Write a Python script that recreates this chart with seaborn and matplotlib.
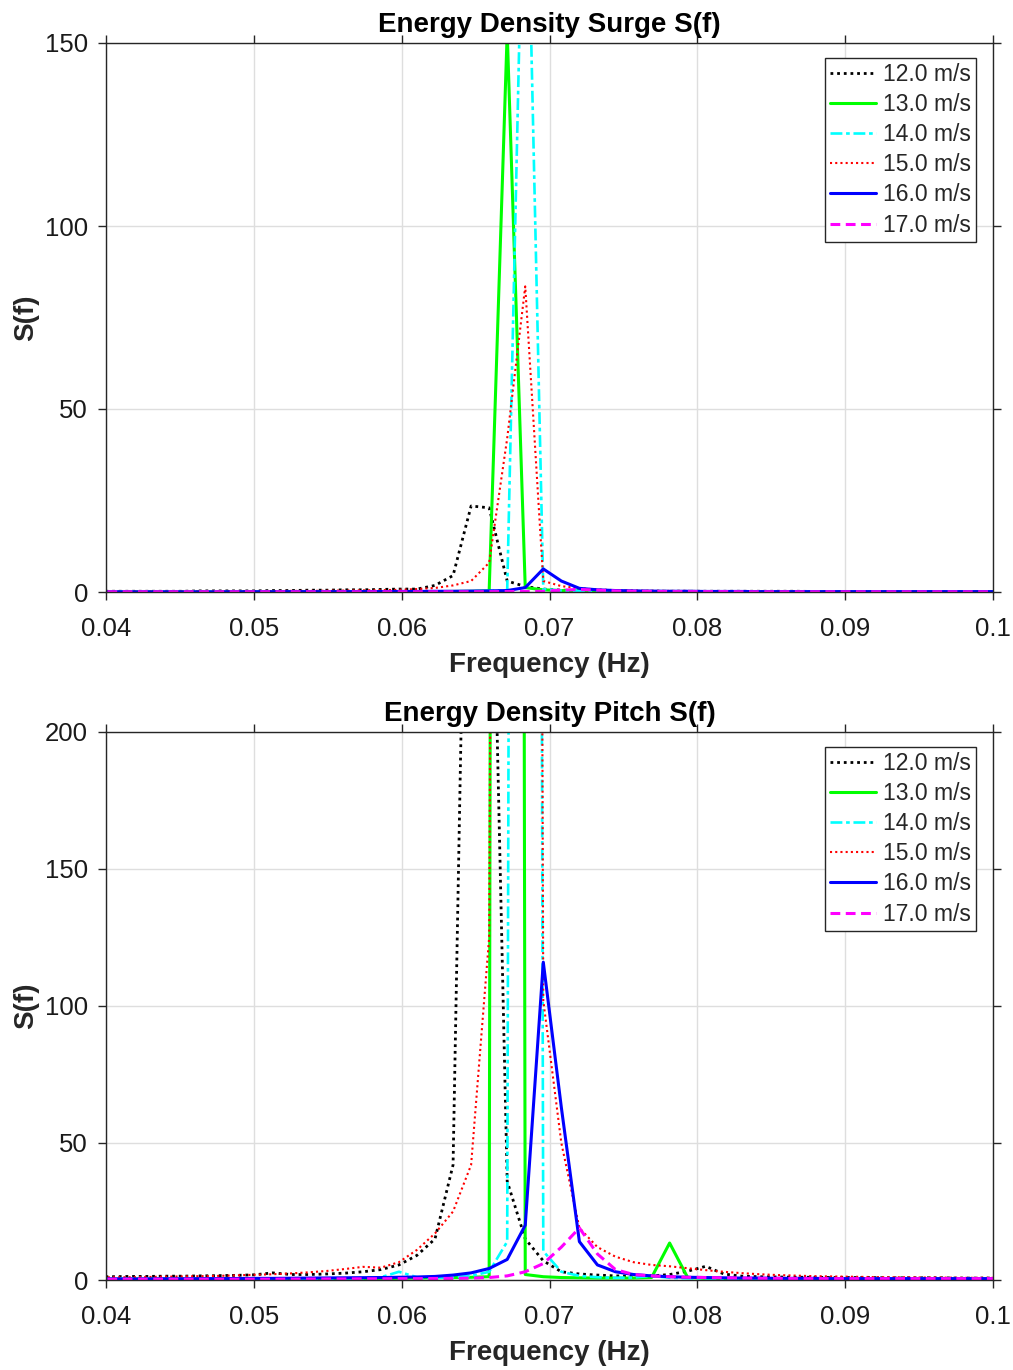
import numpy as np
import pandas as pd
import matplotlib
matplotlib.use("Agg")
import matplotlib.pyplot as plt
import seaborn as sns

# FFT bin frequencies (df = 1/819.2 s), bins 32..82
freq = np.arange(32, 83) / 819.2

speeds = ["12.0 m/s", "13.0 m/s", "14.0 m/s", "15.0 m/s", "16.0 m/s", "17.0 m/s"]

# Surge energy density per wind speed
surge_12 = [0.2, 0.2, 0.2, 0.2, 0.2, 0.2, 0.3, 0.3, 0.3, 0.3,
            0.4, 0.4, 0.5, 0.5, 0.6, 0.6, 0.7, 0.8, 0.8, 1.8,
            4.5, 23.5, 23.0, 3.0, 1.5, 0.8, 0.5, 0.4, 0.3, 0.3,
            0.2, 0.2, 0.2, 0.2, 0.2, 0.2, 0.2, 0.2, 0.2, 0.2,
            0.15, 0.15, 0.15, 0.15, 0.15, 0.15, 0.15, 0.15, 0.15, 0.15, 0.15]
surge_13 = [0.05, 0.05, 0.05, 0.05, 0.05, 0.05, 0.05, 0.05, 0.05, 0.05,
            0.05, 0.05, 0.05, 0.05, 0.05, 0.05, 0.08, 0.08, 0.1, 0.1,
            0.15, 0.2, 0.3, 153.0, 1.2, 0.6, 0.4, 0.3, 0.2, 0.2,
            0.1, 0.1, 0.1, 0.1, 0.1, 0.1, 0.1, 0.1, 0.1, 0.1,
            0.1, 0.1, 0.1, 0.1, 0.1, 0.1, 0.1, 0.1, 0.1, 0.1, 0.1]
surge_14 = [0.05, 0.05, 0.05, 0.05, 0.05, 0.05, 0.05, 0.05, 0.05, 0.05,
            0.05, 0.05, 0.05, 0.05, 0.05, 0.08, 0.08, 0.1, 0.1, 0.1,
            0.15, 0.2, 0.3, 0.5, 225.0, 0.8, 0.4, 0.3, 0.2, 0.2,
            0.1, 0.1, 0.1, 0.1, 0.1, 0.1, 0.1, 0.1, 0.1, 0.1,
            0.1, 0.1, 0.1, 0.1, 0.1, 0.1, 0.1, 0.1, 0.1, 0.1, 0.1]
surge_15 = [0.1, 0.1, 0.1, 0.15, 0.15, 0.15, 0.2, 0.2, 0.2, 0.25,
            0.25, 0.3, 0.3, 0.35, 0.4, 0.45, 0.5, 0.6, 0.8, 1.1,
            1.8, 3.0, 8.0, 42.0, 83.5, 3.0, 1.6, 1.0, 0.7, 0.5,
            0.4, 0.35, 0.3, 0.3, 0.25, 0.25, 0.2, 0.2, 0.2, 0.2,
            0.15, 0.15, 0.15, 0.15, 0.15, 0.15, 0.15, 0.15, 0.15, 0.15, 0.15]
surge_16 = [0.05, 0.05, 0.05, 0.05, 0.05, 0.05, 0.05, 0.05, 0.08, 0.08,
            0.08, 0.1, 0.1, 0.1, 0.1, 0.12, 0.12, 0.15, 0.15, 0.2,
            0.2, 0.25, 0.3, 0.4, 1.2, 6.3, 3.0, 1.0, 0.6, 0.4,
            0.3, 0.25, 0.2, 0.2, 0.15, 0.15, 0.15, 0.1, 0.1, 0.1,
            0.1, 0.1, 0.1, 0.1, 0.1, 0.1, 0.1, 0.1, 0.1, 0.1, 0.1]
surge_17 = [0.05, 0.05, 0.05, 0.05, 0.05, 0.05, 0.05, 0.05, 0.05, 0.05,
            0.05, 0.05, 0.05, 0.05, 0.05, 0.05, 0.05, 0.05, 0.05, 0.05,
            0.05, 0.05, 0.08, 0.1, 0.15, 0.2, 0.5, 0.7, 0.5, 0.3,
            0.2, 0.15, 0.1, 0.1, 0.1, 0.1, 0.05, 0.05, 0.05, 0.05,
            0.05, 0.05, 0.05, 0.05, 0.05, 0.05, 0.05, 0.05, 0.05, 0.05, 0.05]

# Pitch energy density per wind speed
pitch_12 = [1.2, 1.2, 1.3, 1.3, 1.4, 1.4, 1.5, 1.6, 1.7, 1.9,
            2.6, 2.0, 2.0, 2.2, 2.5, 3.0, 3.8, 5.5, 9.0, 15.0,
            42.0, 400.0, 330.0, 36.0, 15.0, 7.0, 3.0, 2.2, 1.8, 1.5,
            1.4, 1.5, 2.0, 3.2, 5.0, 2.2, 1.4, 1.2, 1.1, 1.0,
            1.0, 0.9, 0.9, 0.9, 0.8, 0.8, 0.8, 0.8, 0.7, 0.7, 0.7]
pitch_13 = [0.4, 0.4, 0.4, 0.4, 0.4, 0.4, 0.4, 0.4, 0.4, 0.4,
            0.4, 0.4, 0.4, 0.4, 0.5, 0.5, 0.5, 0.6, 0.7, 0.8,
            0.9, 1.0, 1.2, 3600.0, 2.0, 1.2, 0.9, 0.8, 0.7, 0.7,
            0.7, 0.9, 13.5, 0.9, 0.6, 0.5, 0.5, 0.5, 0.5, 0.4,
            0.4, 0.4, 0.4, 0.4, 0.4, 0.4, 0.4, 0.4, 0.4, 0.4, 0.4]
pitch_14 = [0.5, 0.5, 0.5, 0.5, 0.5, 0.5, 0.5, 0.5, 0.5, 0.5,
            0.5, 0.5, 0.5, 0.5, 0.6, 0.7, 1.0, 3.0, 1.0, 0.8,
            1.0, 1.5, 3.0, 14.0, 2500.0, 10.5, 3.0, 1.5, 1.0, 0.8,
            0.9, 1.5, 0.8, 0.6, 0.6, 0.5, 0.5, 0.5, 0.5, 0.5,
            0.5, 0.5, 0.5, 0.5, 0.5, 0.5, 0.5, 0.5, 0.5, 0.5, 0.5]
pitch_15 = [0.9, 1.0, 1.0, 1.1, 1.2, 1.3, 1.4, 1.5, 1.7, 1.9,
            2.1, 2.4, 2.8, 3.3, 4.0, 4.8, 4.5, 6.5, 11.0, 17.0,
            25.0, 42.0, 125.0, 1500.0, 2000.0, 102.0, 50.0, 19.0, 12.0, 8.5,
            6.5, 5.5, 5.0, 4.3, 3.6, 3.0, 2.5, 2.1, 1.8, 1.6,
            1.4, 1.3, 1.2, 1.1, 1.0, 1.0, 0.9, 0.9, 0.8, 0.8, 0.8]
pitch_16 = [0.4, 0.4, 0.4, 0.4, 0.45, 0.45, 0.5, 0.5, 0.55, 0.6,
            0.6, 0.65, 0.7, 0.75, 0.8, 0.85, 0.9, 1.0, 1.1, 1.3,
            1.8, 2.6, 4.2, 7.5, 20.0, 116.0, 63.0, 14.0, 5.5, 3.0,
            2.0, 1.5, 1.2, 1.0, 0.9, 0.8, 0.7, 0.7, 0.6, 0.6,
            0.6, 0.5, 0.5, 0.5, 0.5, 0.5, 0.5, 0.5, 0.5, 0.5, 0.5]
pitch_17 = [0.3, 0.3, 0.3, 0.3, 0.3, 0.3, 0.3, 0.3, 0.3, 0.3,
            0.3, 0.35, 0.35, 0.4, 0.4, 0.45, 0.45, 0.5, 0.5, 0.55,
            0.6, 0.7, 0.9, 1.5, 3.0, 6.0, 12.0, 19.0, 9.5, 3.8,
            2.0, 1.5, 1.2, 1.0, 0.9, 0.8, 0.7, 0.6, 0.6, 0.5,
            0.5, 0.5, 0.5, 0.5, 0.5, 0.5, 0.5, 0.5, 0.5, 0.5, 0.5]

surge = [surge_12, surge_13, surge_14, surge_15, surge_16, surge_17]
pitch = [pitch_12, pitch_13, pitch_14, pitch_15, pitch_16, pitch_17]

xticks = [0.04, 0.05, 0.06, 0.07, 0.08, 0.09, 0.1]
xtick_labels = ["0.04", "0.05", "0.06", "0.07", "0.08", "0.09", "0.1"]

# MATLAB-like line specs per wind speed
colors = ["#000000", "#00ff00", "#00ffff", "#ff0000", "#0000ff", "#ff00ff"]
styles = [(0, (1, 1.4)), "-", (0, (4.5, 1.4, 1.4, 1.4)), (0, (1, 1.5)), "-", (0, (3.2, 1.8))]
widths = [2.0, 2.2, 1.9, 1.5, 2.2, 2.2]

sns.set_theme(style="white")
plt.rcParams["font.family"] = ["Liberation Sans", "DejaVu Sans"]

fig = plt.figure(figsize=(10.13, 13.70), dpi=100)
ax_top = fig.add_axes([106 / 1013, 1 - 592 / 1370, 887 / 1013, 549 / 1370])
ax_bot = fig.add_axes([106 / 1013, 1 - 1280 / 1370, 887 / 1013, 548 / 1370])

panels = [
    (ax_top, surge, "Energy Density Surge S(f)", [0, 50, 100, 150], 150),
    (ax_bot, pitch, "Energy Density Pitch S(f)", [0, 50, 100, 150, 200], 200),
]

edge = "#262626"
for ax, series, title, yticks, ymax in panels:
    df = pd.DataFrame({"freq": np.tile(freq, len(speeds)),
                       "S": np.concatenate([np.asarray(s, float) for s in series]),
                       "speed": np.repeat(speeds, len(freq))})
    for i, sp in enumerate(speeds):
        sub = df[df["speed"] == sp]
        sns.lineplot(data=sub, x="freq", y="S", ax=ax, color=colors[i],
                     linestyle=styles[i], linewidth=widths[i], label=sp,
                     estimator=None, sort=True)
    ax.set_xlim(0.04, 0.1)
    ax.set_ylim(0, ymax)
    ax.set_xticks(xticks)
    ax.set_xticklabels(xtick_labels)
    ax.set_yticks(yticks)
    ax.set_yticklabels([str(v) for v in yticks])
    ax.grid(True, color="#dedede", linewidth=1.0)
    ax.set_axisbelow(True)
    for sp in ax.spines.values():
        sp.set_color(edge)
        sp.set_linewidth(1.0)
    ax.tick_params(axis="both", which="both", direction="out", length=6, width=1.0,
                   color=edge, labelcolor="#1a1a1a", labelsize=18.5,
                   top=True, right=True, bottom=True, left=True)
    ax.tick_params(axis="x", pad=12)
    ax.tick_params(axis="y", pad=7)
    ax.set_title(title, fontsize=20, fontweight="bold", pad=8, color="#000000")
    ax.set_xlabel("Frequency (Hz)", fontsize=20, fontweight="bold", labelpad=8)
    ax.set_ylabel("S(f)", fontsize=20, fontweight="bold", labelpad=4)
    leg = ax.legend(loc="upper right", bbox_to_anchor=(1 - 17 / 887, 1 - 15 / 549),
                    borderaxespad=0, fontsize=16.5, frameon=True, fancybox=False,
                    framealpha=1, edgecolor=edge, handlelength=2.0,
                    handletextpad=0.3, borderpad=0.22, labelspacing=0.31)
    leg.get_frame().set_linewidth(1.0)

fig.savefig("out.png", dpi=100, facecolor="white")
